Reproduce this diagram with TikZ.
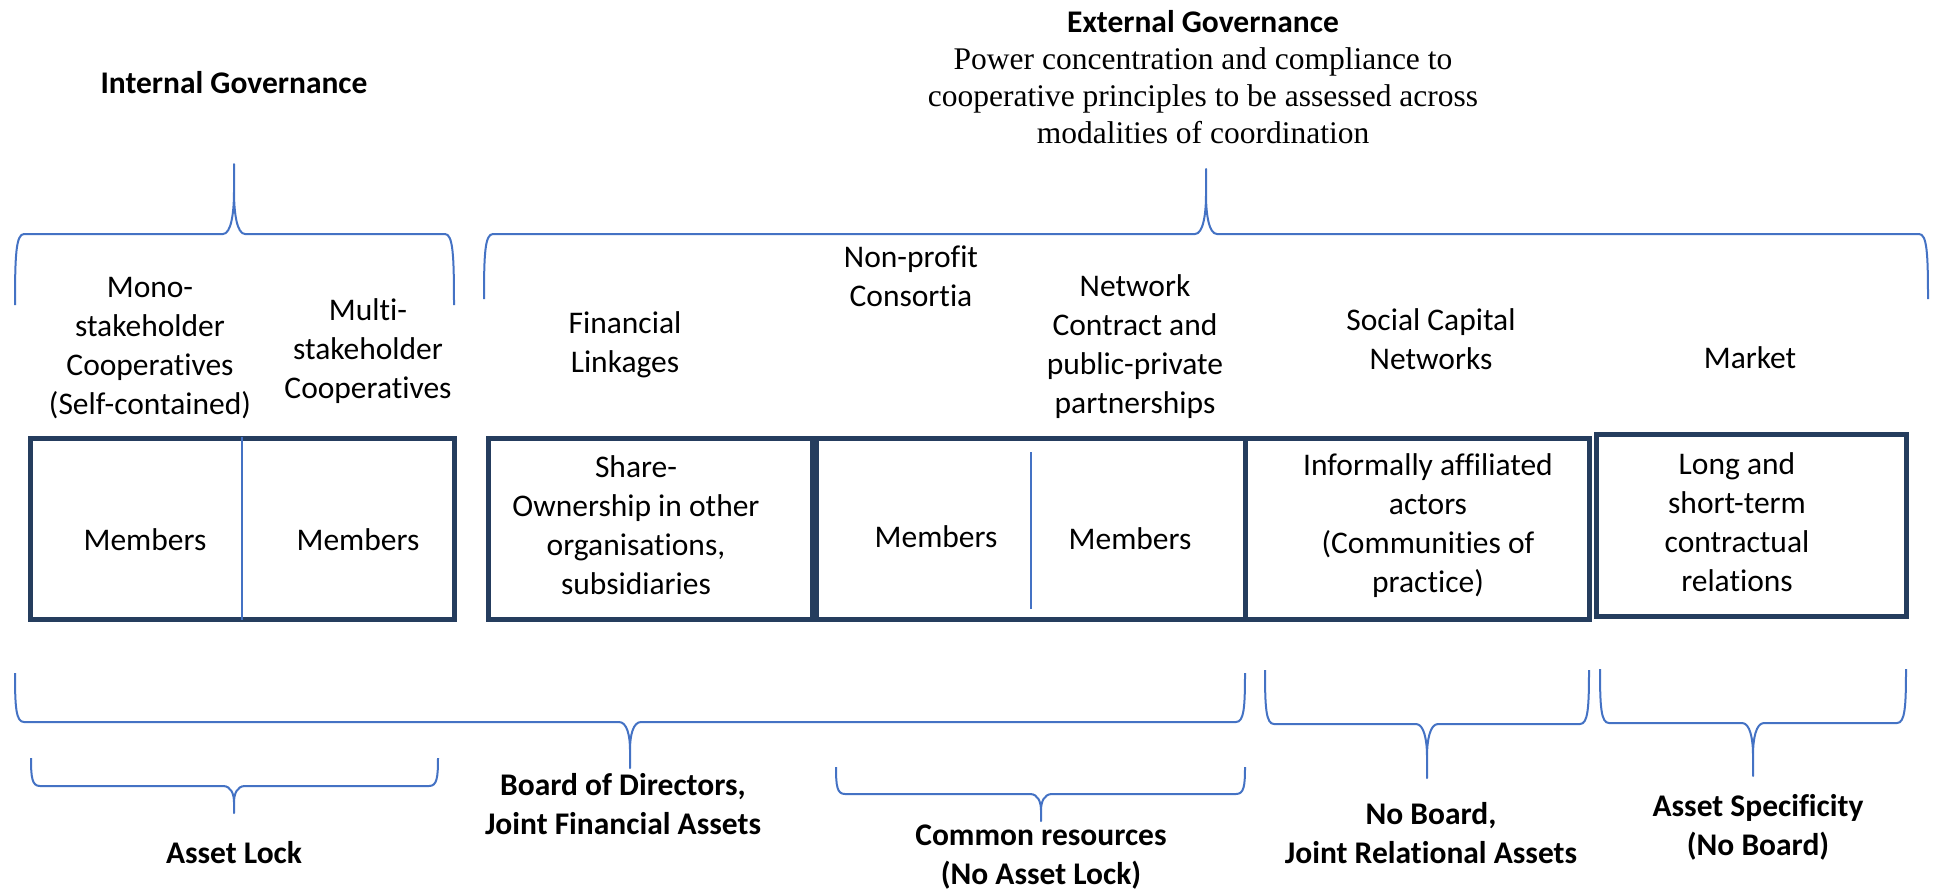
\documentclass[tikz,border=0pt]{standalone}
\usepackage{fontspec}
\setmainfont{Carlito}[Ligatures={NoCommon}]
\newfontfamily\serifx{Liberation Serif}
\definecolor{bracecol}{HTML}{4472C4}
\definecolor{boxcol}{HTML}{253D5E}
\tikzset{
  bracel/.style={draw=bracecol, line width=1pt, line join=round},
  boxl/.style={draw=boxcol, line width=2.5pt},
  divl/.style={draw=bracecol, line width=0.75pt},
  lbl/.style={inner sep=0pt, align=center, font=\fontsize{15.75pt}{19.5pt}\selectfont},
  blbl/.style={inner sep=0pt, align=center, font=\fontsize{15.75pt}{19.5pt}\selectfont\bfseries},
  slbl/.style={inner sep=0pt, align=center, font=\fontsize{15.75pt}{18.5pt}\selectfont\serifx},
}
\newcommand{\gbrace}[6]{%
\draw[bracel] (#1,#4) .. controls (#1,{#5+0.3*(#4-#5)}) and ({#1+1},#5) .. ({#1+9},#5)
 -- ({#3-11},#5) .. controls ({#3-3},#5) and (#3,{#5+0.3*(#6-#5)}) .. (#3,{#5+0.6*(#6-#5)}) -- (#3,#6)
 -- (#3,{#5+0.6*(#6-#5)}) .. controls (#3,{#5+0.3*(#6-#5)}) and ({#3+3},#5) .. ({#3+11},#5)
 -- ({#2-9},#5) .. controls ({#2-1},#5) and (#2,{#5+0.3*(#4-#5)}) .. (#2,#4);}
\begin{document}
\begin{tikzpicture}[x=0.5pt,y=-0.5pt]
\useasboundingbox (0,0) rectangle (1934,891);
\fill[white] (0,0) rectangle (1934,891);
% headings
\node[blbl] (intgov) at (234,83) {Internal Governance};
\node[blbl] (extgov) at (1203,22) {External Governance};
\node[slbl] (extdesc) at (1203,96) {Power concentration and compliance to\\cooperative principles to be assessed across\\modalities of coordination};
% top braces
\gbrace{15}{454}{234}{305}{234}{164}
\gbrace{484}{1928}{1206}{299}{234}{169}
% category labels
\node[lbl] (mono) at (150,348) {Mono-\\stakeholder\\Cooperatives\\(Self-contained)};
\node[lbl] (multi) at (368,351.5) {Multi-\\stakeholder\\Cooperatives};
\node[lbl] (fin) at (625,344.5) {Financial\\Linkages};
\node[lbl] (nonprofit) at (911,276) {Non-profit\\Consortia};
\node[lbl] (network) at (1135,347) {Network\\Contract and\\public-private\\partnerships};
\node[lbl] (social) at (1431,339.5) {Social Capital\\Networks};
\node[lbl] (market) at (1750,358) {Market};
% boxes
\draw[boxl] (30,438) rectangle (454,619);
\draw[boxl] (488,438) rectangle (812.5,619);
\draw[boxl] (816.5,438) rectangle (1245.5,619);
\draw[boxl] (1245.5,438) rectangle (1589,619);
\draw[boxl] (1596,434) rectangle (1906,616);
\draw[divl] (242,437) -- (242,620);
\draw[divl] (1031,452) -- (1031,609);
% box texts
\node[lbl] (mem1) at (145,540) {Members};
\node[lbl] (mem2) at (358,540) {Members};
\node[lbl] (share) at (636,525) {Share-\\Ownership in other\\organisations,\\subsidiaries};
\node[lbl] (mem3) at (936,537) {Members};
\node[lbl] (mem4) at (1130,539) {Members};
\node[lbl] (inform) at (1428,526) {Informally affiliated\\actors\\(Communities of\\practice)};
\node[lbl] (long) at (1737,522) {Long and\\short-term\\contractual\\relations};
% bottom braces
\gbrace{15}{1245}{630}{673}{722}{768}
\gbrace{31}{438}{234}{758}{786}{813}
\gbrace{836}{1245}{1041}{767}{794}{821}
\gbrace{1265}{1589}{1427}{670}{724}{778}
\gbrace{1600}{1906}{1753}{669}{723}{776}
% bottom labels
\node[blbl] (board) at (623,804) {Board of Directors,\\Joint Financial Assets};
\node[blbl] (assetlock) at (234,853) {Asset Lock};
\node[blbl] (common) at (1041,857) {Common resources\\(No Asset Lock)};
\node[blbl] (noboard) at (1431,833.5) {No Board,\\Joint Relational Assets};
\node[blbl] (assetspec) at (1758,827.5) {Asset Specificity\\(No Board)};
\end{tikzpicture}
\end{document}
